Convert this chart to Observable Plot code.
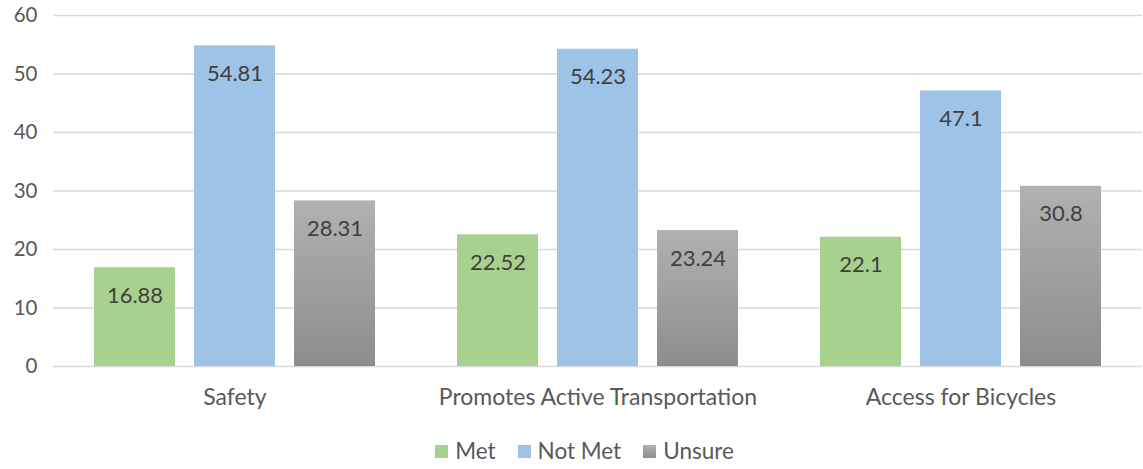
<!DOCTYPE html>
<html>
<head>
<meta charset="utf-8">
<script src="https://cdn.jsdelivr.net/npm/d3@7"></script>
<script src="https://cdn.jsdelivr.net/npm/@observablehq/plot@0.6"></script>
<style>
  html, body { margin: 0; padding: 0; background: #fff; }
  body { width: 1143px; height: 469px; overflow: hidden; font-family: Lato, "Open Sans", sans-serif; }
  #legend { display: flex; justify-content: center; gap: 22px; font-size: 22.5px; color: #595959; margin-top: 18px; padding-left: 26px; line-height: 26px; }
  #legend span.item { display: flex; align-items: center; gap: 7px; }
  #legend span.sw { width: 13px; height: 13px; display: inline-block; }
</style>
</head>
<body>
<div id="chart"></div>
<div id="legend"></div>
<script>
const categories = ["Safety", "Promotes Active Transportation", "Access for Bicycles"];
const seriesNames = ["Met", "Not Met", "Unsure"];
const metValues = [16.88, 22.52, 22.1];
const notMetValues = [54.81, 54.23, 47.1];
const unsureValues = [28.31, 23.24, 30.8];
const yTicks = [0, 10, 20, 30, 40, 50, 60];

const seriesValues = [metValues, notMetValues, unsureValues];
const data = [];
categories.forEach((c, i) => {
  seriesNames.forEach((s, j) => data.push({category: c, series: s, value: seriesValues[j][i]}));
});

const colorRange = ["#a9d18e", "#9dc3e6", "url(#grayGrad)"];

const chart = Plot.plot({
  width: 1143,
  height: 420,
  marginLeft: 52,
  marginRight: 0,
  marginTop: 15,
  marginBottom: 54,
  style: {fontFamily: "Lato, 'Open Sans', sans-serif", fontSize: "20px", color: "#595959", background: "#fff"},
  fx: {domain: categories, padding: 0, label: null},
  x: {domain: seriesNames, paddingInner: 0.19, paddingOuter: 0.4, axis: null},
  y: {domain: [0, 60], label: null},
  color: {domain: seriesNames, range: colorRange, type: "ordinal"},
  marks: [
    Plot.gridY(yTicks, {stroke: "#d9d9d9", strokeOpacity: 1, strokeWidth: 1.5}),
    Plot.axisY(yTicks, {tickSize: 0, tickPadding: 14, fill: "#595959", fontSize: 20.5, textAnchor: "end", dx: -2}),
    Plot.axisFx({anchor: "bottom", tickSize: 0, tickPadding: 22, fill: "#595959", fontSize: 23, label: null}),
    Plot.barY(data, {fx: "category", x: "series", y: "value", fill: "series"}),
    Plot.text(data, {fx: "category", x: "series", y: "value", text: d => String(d.value), dy: 28, fill: "#404040", fontSize: 22})
  ]
});

// gradient defs for the "Unsure" bars
const svg = d3.select(chart);
const defs = svg.insert("defs", ":first-child");
const grad = defs.append("linearGradient").attr("id", "grayGrad").attr("x1", 0).attr("y1", 0).attr("x2", 0).attr("y2", 1);
grad.append("stop").attr("offset", "0%").attr("stop-color", "#b1b1b1");
grad.append("stop").attr("offset", "100%").attr("stop-color", "#8d8d8d");

document.getElementById("chart").appendChild(chart);

const legend = document.getElementById("legend");
const swatchFills = ["#a9d18e", "#9dc3e6", "linear-gradient(#b1b1b1, #8d8d8d)"];
seriesNames.forEach((s, i) => {
  const item = document.createElement("span");
  item.className = "item";
  const sw = document.createElement("span");
  sw.className = "sw";
  sw.style.background = swatchFills[i];
  const t = document.createElement("span");
  t.textContent = s;
  item.appendChild(sw);
  item.appendChild(t);
  legend.appendChild(item);
});
</script>
</body>
</html>
